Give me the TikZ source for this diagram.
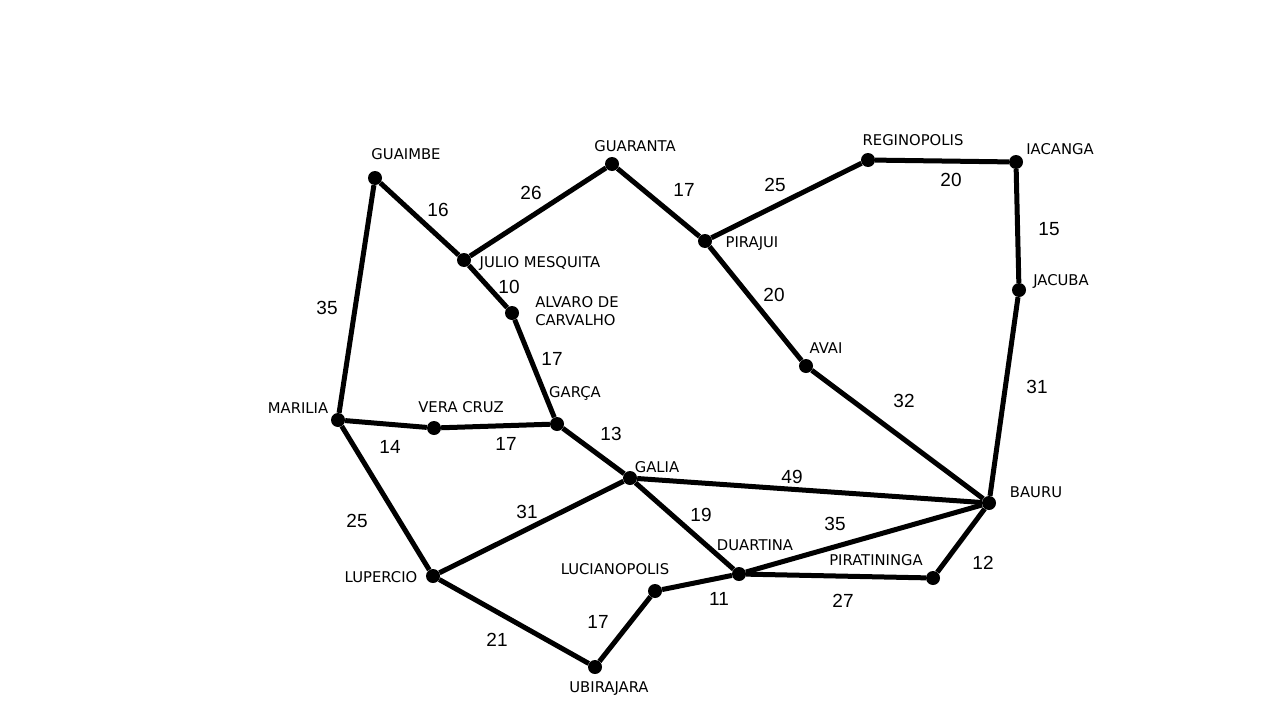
\documentclass[tikz,border=0pt]{standalone}
\usepackage{fontspec}
\setmainfont{DejaVu Sans}
\newfontfamily\wfont{Liberation Sans}
\begin{document}
\begin{tikzpicture}[x=1pt,y=-1pt,
  city/.style={circle,fill=black,inner sep=0pt,minimum size=14pt},
  lbl/.style={font=\fontsize{14.8}{18.5}\selectfont,inner sep=0pt,align=left},
  wt/.style={font=\wfont\fontsize{19}{21}\selectfont,inner sep=0pt},
  road/.style={line width=5pt}]
\useasboundingbox (0,0) rectangle (1280,720);
\fill[white] (0,0) rectangle (1280,720);
% cities
\node[city] (guaimbe) at (375,178) {};
\node[city] (guaranta) at (612,164) {};
\node[city] (regino) at (868,160) {};
\node[city] (iacanga) at (1016,162) {};
\node[city] (julio) at (464,260) {};
\node[city] (pirajui) at (705,241) {};
\node[city] (jacuba) at (1019,290) {};
\node[city] (alvaro) at (512,313) {};
\node[city] (avai) at (806,366) {};
\node[city] (marilia) at (338,420) {};
\node[city] (vera) at (434,428) {};
\node[city] (garca) at (557,424) {};
\node[city] (galia) at (630,478) {};
\node[city] (bauru) at (989,503) {};
\node[city] (duartina) at (739,574) {};
\node[city] (lupercio) at (433,576) {};
\node[city] (luciano) at (655,591) {};
\node[city] (pirat) at (933,578) {};
\node[city] (ubira) at (595,667) {};
% roads
\draw[road] (guaimbe) -- (julio);
\draw[road] (guaimbe) -- (marilia);
\draw[road] (julio) -- (guaranta);
\draw[road] (guaranta) -- (pirajui);
\draw[road] (pirajui) -- (regino);
\draw[road] (regino) -- (iacanga);
\draw[road] (iacanga) -- (jacuba);
\draw[road] (jacuba) -- (bauru);
\draw[road] (pirajui) -- (avai);
\draw[road] (avai) -- (bauru);
\draw[road] (julio) -- (alvaro);
\draw[road] (alvaro) -- (garca);
\draw[road] (marilia) -- (vera);
\draw[road] (vera) -- (garca);
\draw[road] (garca) -- (galia);
\draw[road] (galia) -- (bauru);
\draw[road] (marilia) -- (lupercio);
\draw[road] (lupercio) -- (galia);
\draw[road] (galia) -- (duartina);
\draw[road] (duartina) -- (bauru);
\draw[road] (bauru) -- (pirat);
\draw[road] (duartina) -- (pirat);
\draw[road] (luciano) -- (duartina);
\draw[road] (luciano) -- (ubira);
\draw[road] (lupercio) -- (ubira);
% city labels
\node[lbl] (tguaimbe) at (406,154) {GUAIMBE};
\node[lbl] (tguaranta) at (635,146) {GUARANTA};
\node[lbl] (tregino) at (913,140) {REGINOPOLIS};
\node[lbl] (tiacanga) at (1060,149) {IACANGA};
\node[lbl] (tjulio) at (540,263) {JULIO MESQUITA};
\node[lbl] (tpirajui) at (752,244) {PIRAJUI};
\node[lbl] (tjacuba) at (1061,281) {JACUBA};
\node[lbl] (talvaro) at (577,311) {ALVARO DE\\CARVALHO};
\node[lbl] (tavai) at (826,348) {AVAI};
\node[lbl] (tmarilia) at (298,408) {MARILIA};
\node[lbl] (tvera) at (461,407) {VERA CRUZ};
\node[lbl] (tgarca) at (575,393) {GARÇA};
\node[lbl] (tgalia) at (657,467) {GALIA};
\node[lbl] (tbauru) at (1036,492) {BAURU};
\node[lbl] (tduartina) at (755,545) {DUARTINA};
\node[lbl] (tlupercio) at (381,577) {LUPERCIO};
\node[lbl] (tluciano) at (615,569) {LUCIANOPOLIS};
\node[lbl] (tpirat) at (876,560) {PIRATININGA};
\node[lbl] (tubira) at (609,689) {UBIRAJARA};
% weights
\node[wt] (w1) at (438,210) {16};
\node[wt] (w2) at (327,308) {35};
\node[wt] (w3) at (531,193) {26};
\node[wt] (w4) at (684,190) {17};
\node[wt] (w5) at (775,185) {25};
\node[wt] (w6) at (951,180) {20};
\node[wt] (w7) at (1049,229) {15};
\node[wt] (w8) at (1037,387) {31};
\node[wt] (w9) at (774,295) {20};
\node[wt] (w10) at (904,401) {32};
\node[wt] (w11) at (509,287) {10};
\node[wt] (w12) at (552,359) {17};
\node[wt] (w13) at (390,447) {14};
\node[wt] (w14) at (506,444) {17};
\node[wt] (w15) at (611,434) {13};
\node[wt] (w16) at (792,477) {49};
\node[wt] (w17) at (357,521) {25};
\node[wt] (w18) at (527,512) {31};
\node[wt] (w19) at (701,515) {19};
\node[wt] (w20) at (835,524) {35};
\node[wt] (w21) at (983,563) {12};
\node[wt] (w22) at (843,601) {27};
\node[wt] (w23) at (719,599) {11};
\node[wt] (w24) at (598,622) {17};
\node[wt] (w25) at (497,640) {21};
\end{tikzpicture}
\end{document}
